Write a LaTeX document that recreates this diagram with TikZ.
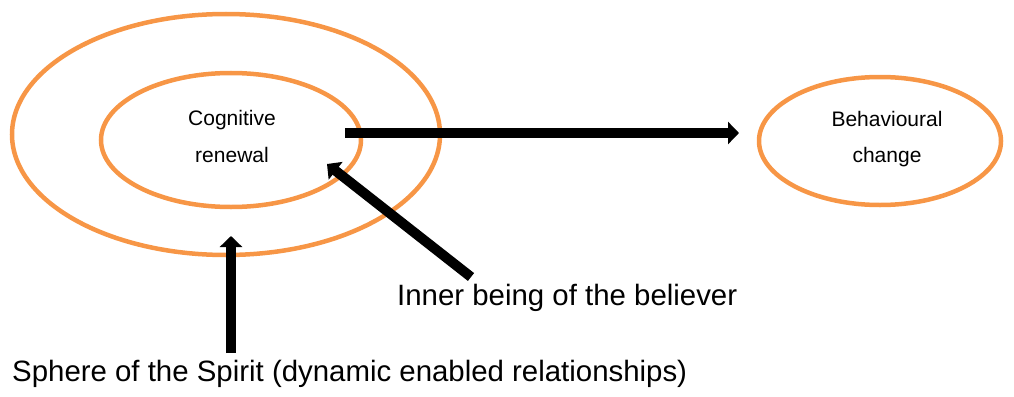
\documentclass[tikz,border=0pt]{standalone}
\usepackage{fontspec}
\setmainfont{Liberation Sans}
\usetikzlibrary{shapes.geometric,arrows.meta}
\definecolor{ringorange}{RGB}{247,150,70}
\tikzset{
  ring/.style={draw=ringorange, line width=4.5pt, ellipse, inner sep=0pt, fill=none},
  smalltext/.style={font=\fontsize{21}{25}\selectfont, inner sep=0pt, anchor=base},
  bigtext/.style={font=\fontsize{29.4}{34}\selectfont, inner sep=0pt, anchor=base west},
  fatarrow/.style={line width=10pt, -{Triangle[length=11pt,width=22pt]}}
}
\begin{document}
\begin{tikzpicture}[x=1pt,y=-1pt]
\useasboundingbox (0,0) rectangle (1014,396);
% rings
\node[ring, minimum width=428pt, minimum height=241pt] (outer) at (226,134.5) {};
\node[ring, minimum width=260pt, minimum height=134pt] (inner) at (231,140) {};
\node[ring, minimum width=242pt, minimum height=128pt] (beh) at (880,141) {};
% texts
\node[smalltext] (cog1) at (232,125) {Cognitive};
\node[smalltext] (cog2) at (232,162) {renewal};
\node[smalltext] (beh1) at (887,126) {Behavioural};
\node[smalltext] (beh2) at (887,162) {change};
\node[bigtext] (innerlbl) at (397,305) {Inner being of the believer};
\node[bigtext] (spherelbl) at (12,381) {Sphere of the Spirit (dynamic enabled relationships)};
% arrow end points
\coordinate (hs) at (345,133);
\coordinate (he) at (739,133);
\coordinate (vs) at (231,353);
\coordinate (ve) at (231,236);
\coordinate (ds) at (471,277);
\coordinate (de) at (327,164);
% arrows
\draw[fatarrow] (hs) -- (he);
\draw[fatarrow] (vs) -- (ve);
\draw[fatarrow] (ds) -- (de);
\end{tikzpicture}
\end{document}
